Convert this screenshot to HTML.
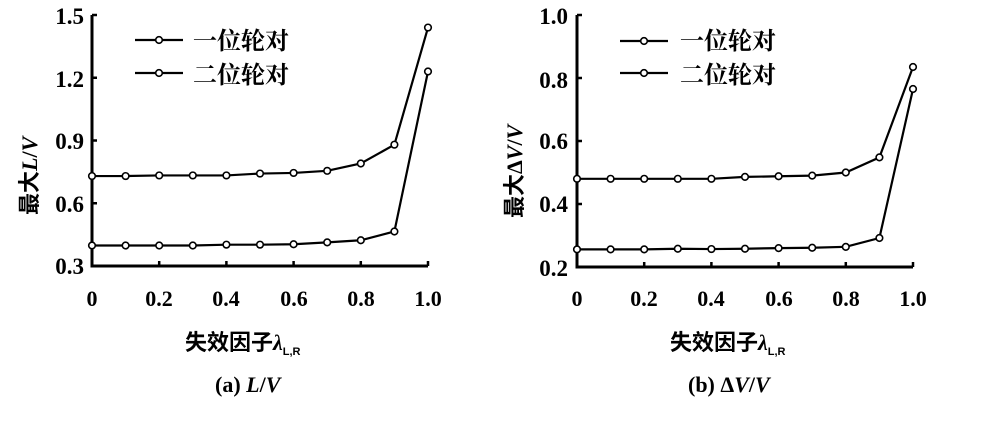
<!DOCTYPE html>
<html><head><meta charset="utf-8"><style>
body{margin:0;background:#fff;width:993px;height:421px;overflow:hidden}
svg text{font-family:"Liberation Serif","Noto Serif CJK SC",serif;fill:#000}
.cj{font-family:"Liberation Sans","Noto Sans CJK SC",sans-serif;font-weight:bold}
</style></head><body>
<svg id="s" width="993" height="421" viewBox="0 0 993 421">
<g font-size="23" font-weight="bold">
<text x="84" y="24" text-anchor="end">1.5</text>
<text x="84" y="87" text-anchor="end">1.2</text>
<text x="84" y="149" text-anchor="end">0.9</text>
<text x="84" y="212" text-anchor="end">0.6</text>
<text x="84" y="274" text-anchor="end">0.3</text>
<text x="568" y="24" text-anchor="end">1.0</text>
<text x="568" y="88" text-anchor="end">0.8</text>
<text x="568" y="149" text-anchor="end">0.6</text>
<text x="568" y="212" text-anchor="end">0.4</text>
<text x="568" y="276" text-anchor="end">0.2</text>
</g>
<g font-size="22" font-weight="bold" text-anchor="middle">
<text x="92" y="306">0</text><text x="159" y="306">0.2</text><text x="226" y="306">0.4</text><text x="294" y="306">0.6</text><text x="361" y="306">0.8</text><text x="428" y="306">1.0</text>
<text x="577" y="306">0</text><text x="644" y="306">0.2</text><text x="711" y="306">0.4</text><text x="779" y="306">0.6</text><text x="846" y="306">0.8</text><text x="913" y="306">1.0</text>
</g>
<text class="cj" font-size="22" x="185" y="350">失效因子<tspan font-family="Liberation Serif" font-style="italic">λ</tspan><tspan font-size="11" dy="5">L,R</tspan></text>
<text class="cj" font-size="22" x="670" y="350">失效因子<tspan font-family="Liberation Serif" font-style="italic">λ</tspan><tspan font-size="11" dy="5">L,R</tspan></text>
<text font-size="22" font-weight="bold" x="215" y="392">(a) <tspan font-style="italic">L</tspan>/<tspan font-style="italic">V</tspan></text>
<text font-size="22" font-weight="bold" x="688" y="392">(b) Δ<tspan font-style="italic">V</tspan>/<tspan font-style="italic">V</tspan></text>
<text class="cj" font-size="22" transform="translate(37,215) rotate(-90)">最大<tspan font-family="Liberation Serif" font-style="italic">L</tspan><tspan font-family="Liberation Serif">/</tspan><tspan font-family="Liberation Serif" font-style="italic">V</tspan></text>
<text class="cj" font-size="22" transform="translate(522,218) rotate(-90)">最大<tspan font-family="Liberation Serif">Δ</tspan><tspan font-family="Liberation Serif" font-style="italic">V</tspan><tspan font-family="Liberation Serif">/</tspan><tspan font-family="Liberation Serif" font-style="italic">V</tspan></text>
<g class="cj" font-size="24">
<text x="193" y="49">一位轮对</text><text x="193" y="83">二位轮对</text>
<text x="680" y="49">一位轮对</text><text x="680" y="83">二位轮对</text>
</g>
</svg>
<script>
var s=document.getElementById('s'),N='http://www.w3.org/2000/svg';
function el(t,a){var e=document.createElementNS(N,t);for(var k in a)e.setAttribute(k,a[k]);s.appendChild(e);return e;}
function chart(x0,top,bot,ymin,ymax,d1,d2){
 var w=336;
 el('polyline',{points:x0+','+top+' '+x0+','+bot+' '+(x0+w)+','+bot,fill:'none',stroke:'#000','stroke-width':3});
 for(var i=1;i<=5;i++)el('line',{x1:x0+i*w/5,x2:x0+i*w/5,y1:bot,y2:bot-5,stroke:'#000','stroke-width':2.5});
 for(var i=1;i<=4;i++){var y=bot-(bot-top)*i/4;el('line',{x1:x0,x2:x0+5,y1:y,y2:y,stroke:'#000','stroke-width':2.5});}
 [d1,d2].forEach(function(d){
  var p=d.map(function(v,i){return [x0+i*w/10,bot-(v-ymin)/(ymax-ymin)*(bot-top)];});
  el('polyline',{points:p.map(function(q){return q.join(',')}).join(' '),fill:'none',stroke:'#000','stroke-width':2.2});
  p.forEach(function(q){el('circle',{cx:q[0],cy:q[1],r:3.3,fill:'#fff',stroke:'#000','stroke-width':1.6});});
 });
}
chart(92,15,266,0.3,1.5,[0.73,0.73,0.733,0.733,0.733,0.742,0.745,0.755,0.79,0.88,1.44],[0.398,0.398,0.398,0.398,0.402,0.402,0.404,0.413,0.423,0.465,1.23]);
chart(577,15,267,0.2,1.0,[0.48,0.48,0.48,0.48,0.48,0.486,0.488,0.49,0.5,0.548,0.835],[0.256,0.256,0.256,0.258,0.257,0.258,0.26,0.261,0.264,0.292,0.765]);
function leg(x,y){el('line',{x1:x,x2:x+48,y1:y,y2:y,stroke:'#000','stroke-width':2.2});el('circle',{cx:x+24,cy:y,r:3.3,fill:'#fff',stroke:'#000','stroke-width':1.6});}
leg(135,40);leg(135,73);leg(620,41);leg(620,73);
</script>
</body></html>
